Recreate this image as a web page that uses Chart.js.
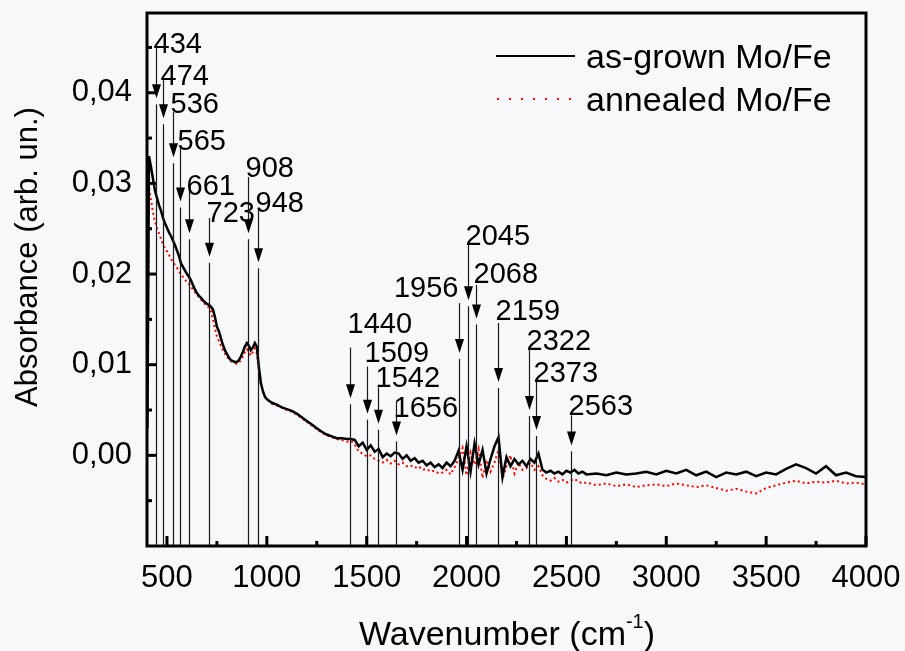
<!DOCTYPE html>
<html>
<head>
<meta charset="utf-8">
<script src="https://cdn.jsdelivr.net/npm/chart.js@4.4.1/dist/chart.umd.min.js"></script>
<style>
  html, body { margin: 0; padding: 0; background: #f7f8fa; }
  #wrap { width: 905px; height: 651px; }
</style>
</head>
<body>
<div id="wrap"><canvas id="spectrum" width="905" height="651"></canvas></div>
<script>
// wavenumbers (cm-1) shared by both spectra
const wavenumbers = [
  402, 410, 420, 430, 440, 450, 460, 470, 480, 490, 500, 510, 520, 530, 540, 550, 560, 570, 580, 590,
  600, 610, 620, 630, 640, 650, 660, 670, 680, 690, 700, 710, 720, 730, 740, 750, 760, 770, 780, 790,
  800, 810, 820, 830, 840, 850, 860, 870, 880, 890, 900, 910, 920, 930, 940, 950, 960, 970, 980, 990, 1000,
  1025, 1050, 1075, 1100, 1125, 1150, 1175, 1200, 1225, 1250, 1275, 1300, 1325, 1350, 1375, 1400,
  1420, 1440, 1460, 1480, 1500, 1520, 1540, 1560, 1580, 1600, 1620, 1640, 1660, 1680, 1700, 1720, 1740, 1760, 1780, 1800,
  1820, 1840, 1860, 1880, 1900, 1920, 1940, 1960, 1980, 2000, 2020, 2040, 2060, 2080, 2100, 2120, 2140, 2160, 2180, 2200,
  2220, 2240, 2260, 2280, 2300, 2320, 2340, 2360, 2380, 2400, 2420, 2440, 2460, 2480, 2500, 2520, 2540, 2560, 2580, 2600,
  2650, 2700, 2750, 2800, 2850, 2900, 2950, 3000, 3050, 3100, 3150, 3200, 3250, 3300, 3350, 3400, 3450, 3500, 3550, 3600,
  3650, 3700, 3750, 3800, 3850, 3900, 3950, 4000
];

const asGrown = [
  0.0030, 0.0330, 0.0318, 0.0305, 0.0292, 0.0284, 0.0276, 0.0270, 0.0262, 0.0256, 0.0251, 0.0246, 0.0242, 0.0237, 0.0232, 0.0226, 0.0220, 0.0212, 0.0208, 0.0204,
  0.0200, 0.0197, 0.0193, 0.0188, 0.0183, 0.0179, 0.0176, 0.0174, 0.0171, 0.0169, 0.0167, 0.0166, 0.0164, 0.0161, 0.0153, 0.0142, 0.0137, 0.0129, 0.0122, 0.0116,
  0.0112, 0.0108, 0.0105, 0.0104, 0.0103, 0.0103, 0.0105, 0.0109, 0.0114, 0.0120, 0.0124, 0.0121, 0.0116, 0.0119, 0.0124, 0.0120, 0.0098, 0.0080, 0.0071, 0.0065, 0.0062,
  0.0058, 0.0056, 0.0053, 0.0051, 0.0049, 0.0046, 0.0042, 0.0038, 0.0034, 0.0030, 0.0026, 0.0023, 0.0021, 0.0019, 0.0019, 0.0018,
  0.0018, 0.0017, 0.0010, 0.0014, 0.0006, 0.0011, 0.0004, 0.0007, -0.0002, 0.0002, -0.0001, 0.0003, 0.0002, -0.0004, 0.0000, -0.0006, -0.0003, -0.0008, -0.0006, -0.0011,
  -0.0008, -0.0013, -0.0010, -0.0014, -0.0008, -0.0012, -0.0006, 0.0005, -0.0016, 0.0010, -0.0018, 0.0013, -0.0010, 0.0006, -0.0020, -0.0004, 0.0010, 0.0020, -0.0024, -0.0002,
  -0.0012, -0.0004, -0.0010, -0.0006, -0.0012, -0.0004, -0.0008, 0.0002, -0.0016, -0.0019, -0.0017, -0.0020, -0.0018, -0.0021, -0.0017, -0.0019, -0.0016, -0.0020, -0.0018, -0.0021,
  -0.0020, -0.0022, -0.0019, -0.0021, -0.0020, -0.0018, -0.0021, -0.0017, -0.0020, -0.0016, -0.0022, -0.0018, -0.0024, -0.0019, -0.0021, -0.0018, -0.0023, -0.0019, -0.0021, -0.0015,
  -0.0010, -0.0014, -0.0020, -0.0012, -0.0022, -0.0019, -0.0023, -0.0024
];

const annealed = [
  0.0025, 0.0295, 0.0282, 0.0268, 0.0258, 0.0251, 0.0245, 0.0239, 0.0233, 0.0228, 0.0225, 0.0221, 0.0217, 0.0213, 0.0210, 0.0207, 0.0203, 0.0200, 0.0197, 0.0194,
  0.0191, 0.0189, 0.0186, 0.0183, 0.0180, 0.0177, 0.0175, 0.0172, 0.0169, 0.0167, 0.0165, 0.0163, 0.0159, 0.0150, 0.0140, 0.0131, 0.0126, 0.0121, 0.0116, 0.0112,
  0.0109, 0.0106, 0.0104, 0.0103, 0.0102, 0.0101, 0.0102, 0.0105, 0.0109, 0.0114, 0.0117, 0.0114, 0.0110, 0.0114, 0.0118, 0.0112, 0.0094, 0.0078, 0.0070, 0.0064, 0.0062,
  0.0057, 0.0055, 0.0053, 0.0050, 0.0048, 0.0045, 0.0041, 0.0037, 0.0033, 0.0029, 0.0025, 0.0022, 0.0020, 0.0018, 0.0017, 0.0015,
  0.0016, 0.0012, 0.0004, 0.0002, -0.0001, 0.0000, -0.0004, -0.0006, -0.0008, -0.0005, -0.0009, -0.0006, -0.0010, -0.0008, -0.0012, -0.0011, -0.0014, -0.0012, -0.0016, -0.0015,
  -0.0018, -0.0017, -0.0020, -0.0019, -0.0016, -0.0021, -0.0013, -0.0004, 0.0008, -0.0022, 0.0003, -0.0010, 0.0007, -0.0025, -0.0005, -0.0018, -0.0008, 0.0006, -0.0026, -0.0012,
  0.0000, -0.0020, -0.0008, -0.0016, -0.0014, -0.0008, -0.0016, -0.0012, -0.0022, -0.0026, -0.0028, -0.0025, -0.0029, -0.0027, -0.0030, -0.0028, -0.0026, -0.0029, -0.0031, -0.0030,
  -0.0033, -0.0031, -0.0034, -0.0032, -0.0035, -0.0033, -0.0032, -0.0034, -0.0031, -0.0033, -0.0035, -0.0033, -0.0036, -0.0039, -0.0037, -0.0040, -0.0042, -0.0036, -0.0033, -0.0030,
  -0.0028, -0.0031, -0.0029, -0.0030, -0.0028, -0.0031, -0.0030, -0.0032
];

// axis ticks
const xTicks = [500, 1000, 1500, 2000, 2500, 3000, 3500, 4000];
const yTicks = [0.00, 0.01, 0.02, 0.03, 0.04];

// peak markers: label text, arrow position (cm-1), label / arrow top / arrow tip heights (absorbance)
const peakLabels = ["434", "474", "536", "565", "661", "723", "908", "948", "1440", "1509", "1542", "1656", "1956", "2045", "2068", "2159", "2322", "2373", "2563"];
const peakX = [445, 480, 530, 565, 610, 710, 905, 955, 1415, 1500, 1555, 1645, 1960, 2005, 2045, 2155, 2315, 2350, 2525];
const peakLabelY = [0.0455, 0.0420, 0.0389, 0.0348, 0.0298, 0.0269, 0.0318, 0.0280, 0.0146, 0.0114, 0.0086, 0.0053, 0.0186, 0.0243, 0.0201, 0.0160, 0.0127, 0.0092, 0.0055];
const peakTop = [0.0450, 0.0414, 0.0379, 0.0339, 0.0293, 0.0262, 0.0307, 0.0273, 0.0119, 0.0098, 0.0075, 0.0059, 0.0168, 0.0232, 0.0188, 0.0146, 0.0117, 0.0081, 0.0044];
const peakTip = [0.0394, 0.0372, 0.0329, 0.0280, 0.0245, 0.0219, 0.0245, 0.0213, 0.0063, 0.0046, 0.0035, 0.0022, 0.0113, 0.0171, 0.0151, 0.0081, 0.0050, 0.0028, 0.0011];

const FONT = "'Liberation Sans', Arial, sans-serif";

const bgPlugin = {
  id: "bg",
  beforeDraw(chart) {
    const ctx = chart.ctx;
    ctx.save();
    ctx.fillStyle = "#f7f8fa";
    ctx.fillRect(0, 0, chart.width, chart.height);
    ctx.restore();
  }
};

const decorPlugin = {
  id: "decor",
  afterDatasetsDraw(chart) {
    const ctx = chart.ctx;
    const xs = chart.scales.x;
    const ys = chart.scales.y;
    const area = chart.chartArea;

    // peak arrows
    ctx.save();
    ctx.strokeStyle = "#1a1a1a";
    ctx.fillStyle = "#000";
    ctx.lineWidth = 1.2;
    ctx.font = "29px " + FONT;
    peakLabels.forEach((lab, i) => {
      const px = Math.round(xs.getPixelForValue(peakX[i])) + 0.5;
      const top = ys.getPixelForValue(peakTop[i]);
      const tip = ys.getPixelForValue(peakTip[i]);
      const ly = ys.getPixelForValue(peakLabelY[i]);
      ctx.beginPath();
      ctx.moveTo(px, top);
      ctx.lineTo(px, tip - 12);
      ctx.stroke();
      ctx.beginPath();
      ctx.moveTo(px - 4.5, tip - 14);
      ctx.lineTo(px + 4.5, tip - 14);
      ctx.lineTo(px, tip);
      ctx.closePath();
      ctx.fill();
      ctx.beginPath();
      ctx.moveTo(px, tip + 6);
      ctx.lineTo(px, area.bottom);
      ctx.stroke();
      if (lab === "1956") {
        ctx.textAlign = "right";
        ctx.fillText(lab, px - 1, ly + 10);
      } else {
        ctx.textAlign = "left";
        ctx.fillText(lab, px - 3, ly + 10);
      }
    });
    ctx.restore();

    // inward ticks
    ctx.save();
    ctx.strokeStyle = "#000";
    ctx.lineWidth = 3;
    for (let v = 500; v <= 4000; v += 250) {
      const px = xs.getPixelForValue(v);
      const len = v % 500 === 0 ? 10 : 5;
      ctx.beginPath();
      ctx.moveTo(px, area.bottom);
      ctx.lineTo(px, area.bottom - len);
      ctx.stroke();
    }
    for (let k = -1; k <= 9; k++) {
      const v = k * 0.005;
      const py = ys.getPixelForValue(v);
      const len = k % 2 === 0 ? 9 : 5;
      ctx.beginPath();
      ctx.moveTo(area.left, py);
      ctx.lineTo(area.left + len, py);
      ctx.stroke();
    }
    // frame
    ctx.lineWidth = 3;
    ctx.strokeRect(area.left, area.top, area.right - area.left, area.bottom - area.top);
    ctx.restore();
  },
  afterDraw(chart) {
    const ctx = chart.ctx;
    ctx.save();
    ctx.fillStyle = "#000";

    // legend
    ctx.strokeStyle = "#000";
    ctx.lineWidth = 2;
    ctx.beginPath();
    ctx.moveTo(496, 56);
    ctx.lineTo(575, 56);
    ctx.stroke();
    ctx.strokeStyle = "#ff0000";
    ctx.setLineDash([2, 10]);
    ctx.beginPath();
    ctx.moveTo(497, 99);
    ctx.lineTo(575, 99);
    ctx.stroke();
    ctx.setLineDash([]);
    ctx.font = "34px " + FONT;
    ctx.textAlign = "left";
    ctx.fillText("as-grown Mo/Fe", 586, 68);
    ctx.fillText("annealed Mo/Fe", 586, 111);

    // y title
    ctx.font = "31px " + FONT;
    ctx.save();
    ctx.translate(37, 257);
    ctx.rotate(-Math.PI / 2);
    ctx.textAlign = "center";
    ctx.fillText("Absorbance (arb. un.)", 0, 0);
    ctx.restore();

    // x title with superscript
    const main = "Wavenumber (cm";
    ctx.font = "34px " + FONT;
    const w1 = ctx.measureText(main).width;
    const w3 = ctx.measureText(")").width;
    ctx.font = "20px " + FONT;
    const w2 = ctx.measureText("-1").width;
    const x0 = 507 - (w1 + w2 + w3) / 2;
    ctx.textAlign = "left";
    ctx.font = "34px " + FONT;
    ctx.fillText(main, x0, 645);
    ctx.font = "20px " + FONT;
    ctx.fillText("-1", x0 + w1, 628);
    ctx.font = "34px " + FONT;
    ctx.fillText(")", x0 + w1 + w2, 645);
    ctx.restore();
  }
};

const ctx = document.getElementById("spectrum").getContext("2d");
new Chart(ctx, {
  type: "line",
  data: {
    datasets: [
      {
        label: "as-grown Mo/Fe",
        data: wavenumbers.map((w, i) => ({ x: w, y: asGrown[i] })),
        borderColor: "#000",
        borderWidth: 2.5,
        pointRadius: 0,
        tension: 0
      },
      {
        label: "annealed Mo/Fe",
        data: wavenumbers.map((w, i) => ({ x: w, y: annealed[i] })),
        borderColor: "#ff0000",
        borderWidth: 2,
        borderDash: [2, 3],
        pointRadius: 0,
        tension: 0
      }
    ]
  },
  options: {
    responsive: false,
    animation: false,
    layout: { padding: { top: 13, right: 39, left: 0, bottom: 0 } },
    plugins: {
      legend: { display: false },
      tooltip: { enabled: false }
    },
    scales: {
      x: {
        type: "linear",
        min: 400,
        max: 4000,
        grid: { display: false, drawTicks: false },
        border: { display: false },
        afterBuildTicks: (scale) => { scale.ticks = xTicks.map((v) => ({ value: v })); },
        afterFit: (scale) => {
          scale.height = 105;
          scale.paddingLeft = 0;
          scale.paddingRight = 0;
        },
        ticks: {
          color: "#000",
          padding: 14,
          maxRotation: 0,
          font: { family: FONT, size: 31 },
          callback: (v) => String(v)
        }
      },
      y: {
        min: -0.01,
        max: 0.0488,
        grid: { display: false, drawTicks: false },
        border: { display: false },
        afterBuildTicks: (scale) => { scale.ticks = yTicks.map((v) => ({ value: v })); },
        afterFit: (scale) => {
          scale.width = 147;
          scale.paddingTop = 0;
          scale.paddingBottom = 0;
        },
        ticks: {
          color: "#000",
          padding: 15,
          font: { family: FONT, size: 31 },
          callback: (v) => v.toFixed(2).replace(".", ",")
        }
      }
    }
  },
  plugins: [bgPlugin, decorPlugin]
});
</script>
</body>
</html>
